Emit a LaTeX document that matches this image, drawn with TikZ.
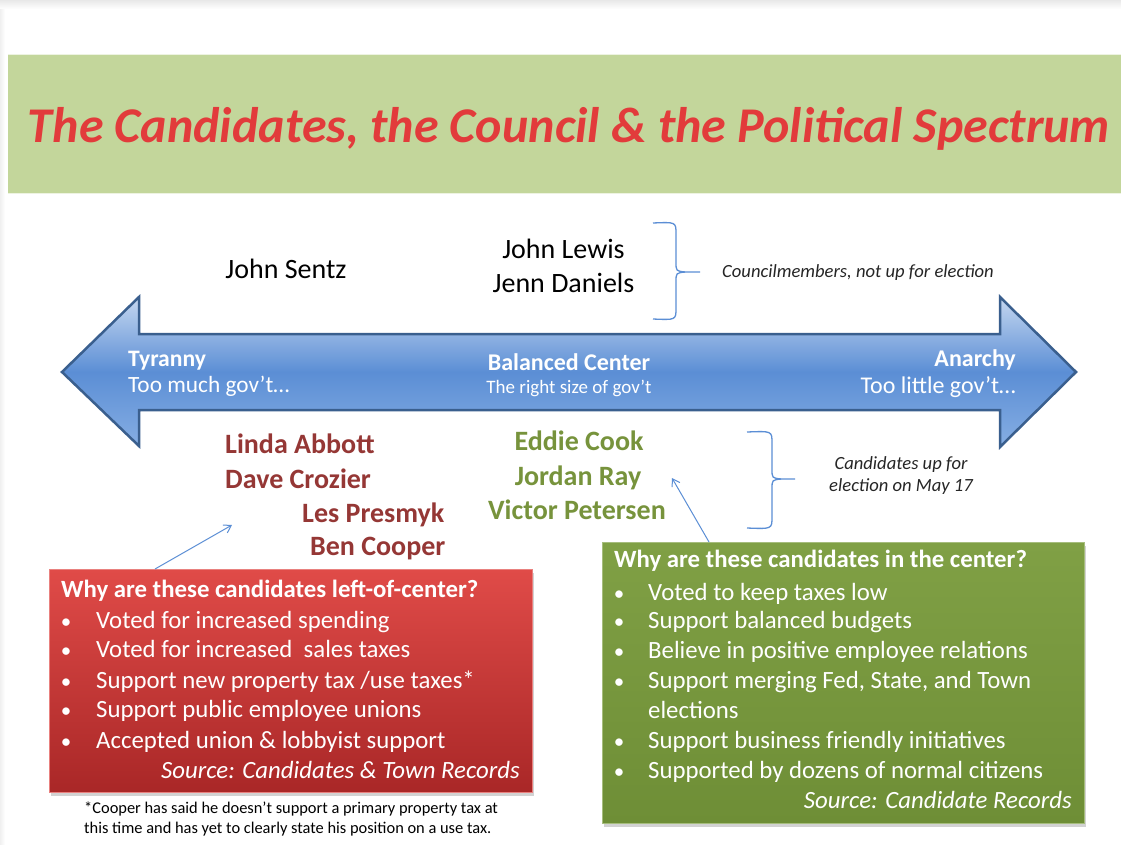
\documentclass[tikz,border=0pt]{standalone}
\usepackage{fontspec}
\usepackage{graphicx}
\setmainfont{Carlito}
\usetikzlibrary{shadows,arrows.meta}
\definecolor{bandgreen}{HTML}{C3D69B}
\definecolor{arrtop}{HTML}{C5D7F0}
\definecolor{arrmid}{HTML}{5B8ED5}
\definecolor{arrbot}{HTML}{86AEE3}
\definecolor{arrline}{HTML}{3A5F8E}
\definecolor{bracecol}{HTML}{5B8ED5}
\definecolor{namered}{HTML}{953735}
\definecolor{namegreen}{HTML}{77933C}
\definecolor{redtop}{HTML}{E04B48}
\definecolor{redbot}{HTML}{A92727}
\definecolor{grntop}{HTML}{80A045}
\definecolor{grnbot}{HTML}{6E8E36}
\definecolor{titlered}{HTML}{E23B3B}
\newcommand{\fs}[1]{\fontsize{#1}{#1}\selectfont}
\tikzset{
  brace/.style={draw=bracecol, line width=1.3},
  pointer/.style={draw=bracecol, line width=1, -{Straight Barb[length=7pt,width=9pt]}},
  namebase/.style={inner sep=0pt, font=\fs{28}},
  redname/.style={namebase, text=namered, font=\fs{28}\bfseries, anchor=base west},
  grnname/.style={namebase, text=namegreen, font=\fs{28}\bfseries, anchor=base},
  blackname/.style={namebase, text=black, anchor=base},
  arrtext/.style={inner sep=0pt, text=white},
  boxtext/.style={inner sep=0pt, text=white, font=\fs{24.8}, anchor=base west},
  boxtitle/.style={inner sep=0pt, text=white, font=\fs{24.8}\bfseries, anchor=base west},
  bullet/.style={inner sep=0pt, text=white, font=\fs{21}, anchor=base},
  srctext/.style={inner sep=0pt, text=white, font=\fs{24.8}\itshape, anchor=base east},
  note/.style={inner sep=0pt, font=\fs{18.6}\itshape, text=black!85},
  footnote/.style={inner sep=0pt, font=\fs{16.4}, anchor=base west},
}
\begin{document}
\begin{tikzpicture}[x=1pt,y=-1pt]
\useasboundingbox (0,0) rectangle (1121,844);
\fill[white] (0,0) rectangle (1121,844);
\shade[top color=gray!18, bottom color=white] (0,0) rectangle (1121,9);
\shade[left color=gray!12, right color=white] (0,9) rectangle (5,844);
% title band
\fill[bandgreen] (8,54) rectangle (1121,194);
\draw[white!70!bandgreen, line width=1] (8,54.5) -- (1121,54.5) (8,193.5) -- (1121,193.5);
\node[inner sep=0pt, text=titlered] (title) at (569,129) {\resizebox{1082pt}{!}{\bfseries\itshape The Candidates, the Council \& the Political Spectrum}};
% spectrum arrow
\path[draw=arrline, line width=2.5, line join=miter, top color=arrtop, bottom color=arrbot, middle color=arrmid]
  (62,372) -- (139,297) -- (139,334) -- (1000,334) -- (1000,297) -- (1076,372)
  -- (1000,447) -- (1000,410) -- (139,410) -- (139,446) -- cycle;
\node[arrtext, font=\fs{23.6}\bfseries, anchor=base west] (tyr) at (128,366) {Tyranny};
\node[arrtext, font=\fs{23.3}, anchor=base west] (tyr2) at (128,392) {Too much gov’t…};
\node[arrtext, font=\fs{24}\bfseries, anchor=base] (bal) at (569,370) {Balanced Center};
\node[arrtext, font=\fs{19}, anchor=base] (bal2) at (569,393) {The right size of gov’t};
\node[arrtext, font=\fs{24}\bfseries, anchor=base east] (ana) at (1016,366) {Anarchy};
\node[arrtext, font=\fs{24}, anchor=base east] (ana2) at (1016,393) {Too little gov’t…};
% council members
\node[blackname] (sentz) at (286,278) {John Sentz};
\node[blackname] (lewis) at (563.5,258) {John Lewis};
\node[blackname] (daniels) at (563.5,292) {Jenn Daniels};
\draw[brace] (653,223) .. controls (676,222) .. (676,234) -- (676,262) .. controls (676,271) .. (685,272) -- (700,272);
\draw[brace] (653,319) .. controls (676,320) .. (676,308) -- (676,282) .. controls (676,273) .. (685,272);
\node[note, anchor=base west] (council) at (722,277) {Councilmembers, not up for election};
% candidates
\node[redname] (abbott) at (225,453) {Linda Abbott};
\node[redname] (crozier) at (225,488) {Dave Crozier};
\node[redname] (presmyk) at (302,522) {Les Presmyk};
\node[redname] (cooper) at (310,555) {Ben Cooper};
\node[grnname] (cook) at (579,450) {Eddie Cook};
\node[grnname] (ray) at (578,485) {Jordan Ray};
\node[grnname] (petersen) at (577,519) {Victor Petersen};
\draw[brace] (747,432) .. controls (772,431) .. (772,443) -- (772,469) .. controls (772,478) .. (781,479) -- (795,479);
\draw[brace] (747,528) .. controls (772,529) .. (772,517) -- (772,489) .. controls (772,480) .. (781,479);
\node[note, anchor=base] (cand1) at (901,469) {Candidates up for};
\node[note, anchor=base] (cand2) at (901,491) {election on May 17};
% red box
\node[draw=redtop!70!white, line width=0.8, top color=redtop, bottom color=redbot, minimum width=483pt, minimum height=223pt, inner sep=0pt, anchor=north west,
  drop shadow={shadow xshift=2pt, shadow yshift=-4pt, opacity=0.35}] (rbox) at (49,569) {};
\node[boxtitle] (rt) at (61,597) {Why are these candidates left-of-center?};
\foreach \y/\t [count=\i] in {628/{Voted for increased spending}, 657/{Voted for increased \ sales taxes}, 688/{Support new property tax /use taxes*}, 717/{Support public employee unions}, 748/{Accepted union \& lobbyist support}} {
  \node[bullet] (rb\i) at (66,\y) {•};
  \node[boxtext] (rl\i) at (96,\y) {\t};
}
\node[srctext] (rsrc) at (520,778) {Source: Candidates \& Town Records};
\node[footnote] (fn1) at (84,813) {*Cooper has said he doesn’t support a primary property tax at};
\node[footnote] (fn2) at (84,833) {this time and has yet to clearly state his position on a use tax.};
% green box
\node[draw=grntop!70!white, line width=0.8, top color=grntop, bottom color=grnbot, minimum width=482pt, minimum height=281pt, inner sep=0pt, anchor=north west,
  drop shadow={shadow xshift=2pt, shadow yshift=-4pt, opacity=0.35}] (gbox) at (602,542) {};
\node[boxtitle] (gt) at (614,567) {Why are these candidates in the center?};
\foreach \y/\t [count=\i] in {600/{Voted to keep taxes low}, 628/{Support balanced budgets}, 658/{Believe in positive employee relations}, 688/{Support merging Fed, State, and Town}, 748/{Support business friendly initiatives}, 778/{Supported by dozens of normal citizens}} {
  \node[bullet] (gb\i) at (619,\y) {•};
  \node[boxtext] (gl\i) at (648,\y) {\t};
}
\node[boxtext] (gl4b) at (648,718) {elections};
\node[srctext] (gsrc) at (1072,808) {Source: Candidate Records};
% pointers
\coordinate (rptail) at (155,569);
\coordinate (rphead) at (232,525);
\coordinate (gptail) at (709,542);
\coordinate (gphead) at (672,478);
\draw[pointer] (rptail) -- (rphead);
\draw[pointer] (gptail) -- (gphead);
\end{tikzpicture}
\end{document}
